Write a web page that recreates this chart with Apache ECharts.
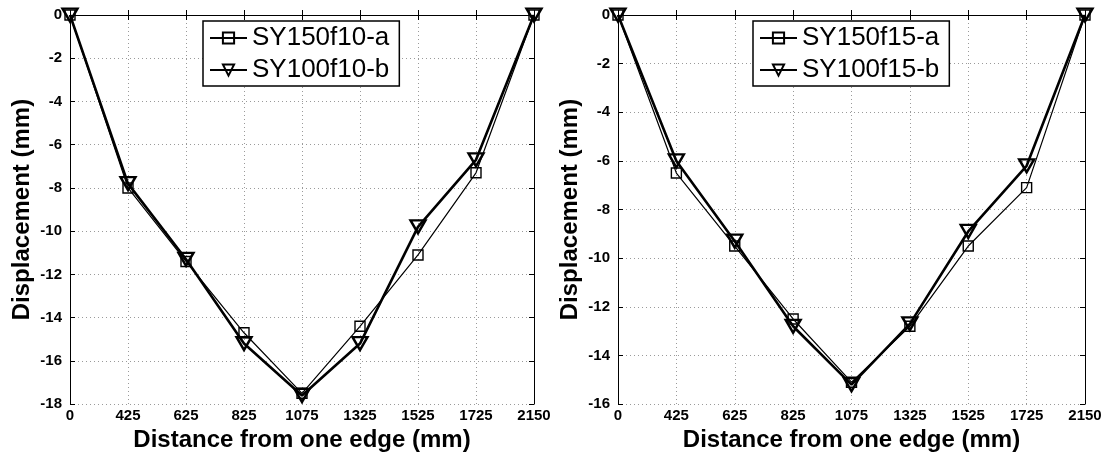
<!DOCTYPE html>
<html>
<head>
<meta charset="utf-8">
<script src="https://cdn.jsdelivr.net/npm/echarts@6/dist/echarts.min.js"></script>
<style>
  html, body { margin: 0; padding: 0; background: #fff; }
  #chart { width: 1113px; height: 457px; }
</style>
</head>
<body>
<div id="chart"></div>
<script>
// Measurement stations along the span (mm)
const distances = ['0', '425', '625', '825', '1075', '1325', '1525', '1725', '2150'];

// Deflection profiles, f10 specimens (mm)
const sy150f10a = [0, -8.0, -11.4, -14.7, -17.5, -14.4, -11.1, -7.3, 0];
const sy100f10b = [0, -7.8, -11.3, -15.2, -17.6, -15.2, -9.8, -6.7, 0];

// Deflection profiles, f15 specimens (mm)
const sy150f15a = [0, -6.5, -9.5, -12.5, -15.1, -12.8, -9.5, -7.1, 0];
const sy100f15b = [0, -6.0, -9.3, -12.8, -15.2, -12.7, -8.9, -6.2, 0];

const namesLeft = ['SY150f10-a', 'SY100f10-b'];
const namesRight = ['SY150f15-a', 'SY100f15-b'];
const yMinLeft = -18, yMinRight = -16, yStep = 2;

const FONT = '"Liberation Sans", Arial, sans-serif';

const tickLabel = { color: '#000', fontFamily: FONT, fontWeight: 'bold', fontSize: 15 };
const axisNameStyle = { color: '#000', fontFamily: FONT, fontWeight: 'bold', fontSize: 24 };

function xAxes(gridIndex) {
  return [
    {
      type: 'category', gridIndex, data: distances, boundaryGap: false, position: 'bottom',
      name: 'Distance from one edge (mm)', nameLocation: 'middle', nameGap: 22,
      nameTextStyle: axisNameStyle,
      axisLine: { lineStyle: { color: '#000', width: 1 } },
      axisTick: { inside: true, length: 5, alignWithLabel: true, lineStyle: { color: '#000' } },
      axisLabel: Object.assign({ margin: 4, interval: 0 }, tickLabel),
      splitLine: { show: true, lineStyle: { color: '#9a9a9a', type: [1, 3], width: 1 } }
    },
    {
      type: 'category', gridIndex, data: distances, boundaryGap: false, position: 'top',
      axisLine: { lineStyle: { color: '#000', width: 1 } },
      axisTick: { inside: true, length: 5, lineStyle: { color: '#000' } },
      axisLabel: { show: false }, splitLine: { show: false }
    }
  ];
}

function yAxes(gridIndex, min) {
  return [
    {
      type: 'value', gridIndex, min, max: 0, interval: yStep, position: 'left',
      name: 'Displacement (mm)', nameLocation: 'middle', nameGap: 36, nameRotate: 90,
      nameTextStyle: axisNameStyle,
      axisLine: { show: true, lineStyle: { color: '#000', width: 1 } },
      axisTick: { show: true, inside: true, length: 5, lineStyle: { color: '#000' } },
      axisLabel: Object.assign({ margin: 8 }, tickLabel),
      splitLine: { show: true, lineStyle: { color: '#9a9a9a', type: [1, 3], width: 1 } }
    },
    {
      type: 'value', gridIndex, min, max: 0, interval: yStep, position: 'right',
      axisLine: { show: true, lineStyle: { color: '#000', width: 1 } },
      axisTick: { show: true, inside: true, length: 5, lineStyle: { color: '#000' } },
      axisLabel: { show: false }, splitLine: { show: false }
    }
  ];
}

function thinSeries(name, data, axisIdx) {
  return {
    name, type: 'line', data, xAxisIndex: axisIdx, yAxisIndex: axisIdx,
    symbol: 'rect', symbolSize: 10, showAllSymbol: true,
    lineStyle: { color: '#000', width: 1.2 },
    itemStyle: { color: 'rgba(255,255,255,0)', borderColor: '#000', borderWidth: 1.4 },
    emphasis: { disabled: true }, animation: false, z: 3
  };
}

function thickSeries(name, data, axisIdx) {
  return {
    name, type: 'line', data, xAxisIndex: axisIdx, yAxisIndex: axisIdx,
    symbol: 'triangle', symbolRotate: 180, symbolSize: [15, 13], showAllSymbol: true,
    lineStyle: { color: '#000', width: 2.6 },
    itemStyle: { color: 'rgba(255,255,255,0)', borderColor: '#000', borderWidth: 2.4 },
    emphasis: { disabled: true }, animation: false, z: 4
  };
}

function legendBox(names, left) {
  return {
    data: names, orient: 'vertical', left, top: 21,
    padding: [4, 10, 3, 6], itemGap: 6, itemWidth: 37, itemHeight: 14,
    backgroundColor: '#fff', borderColor: '#000', borderWidth: 1.5,
    textStyle: { color: '#000', fontFamily: FONT, fontSize: 26 },
    selectedMode: false
  };
}

const chart = echarts.init(document.getElementById('chart'), null, { renderer: 'canvas' });
chart.setOption({
  backgroundColor: '#fff',
  animation: false,
  grid: [
    { left: 70, top: 15, width: 464, height: 390 },
    { left: 618, top: 15, width: 467, height: 390 }
  ],
  xAxis: [...xAxes(0), ...xAxes(1)],
  yAxis: [...yAxes(0, yMinLeft), ...yAxes(1, yMinRight)],
  legend: [legendBox(namesLeft, 203), legendBox(namesRight, 753)],
  series: [
    thinSeries(namesLeft[0], sy150f10a, 0),
    thickSeries(namesLeft[1], sy100f10b, 0),
    thinSeries(namesRight[0], sy150f15a, 2),
    thickSeries(namesRight[1], sy100f15b, 2)
  ]
});
</script>
</body>
</html>
